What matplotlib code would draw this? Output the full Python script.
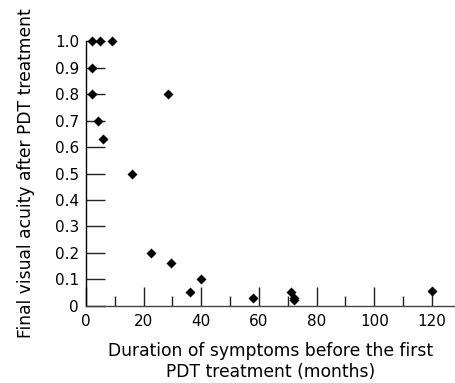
import matplotlib
matplotlib.use("Agg")
import matplotlib.pyplot as plt
from matplotlib.ticker import MultipleLocator

duration = [2, 5, 9, 2, 2, 4, 6, 28.5, 16, 22.5, 29.5, 40, 36, 58, 71, 72, 72, 120]
acuity = [1.0, 1.0, 1.0, 0.9, 0.8, 0.7, 0.63, 0.8, 0.5, 0.2, 0.16, 0.1, 0.05, 0.03, 0.05, 0.03, 0.02, 0.055]
xticks = [0, 20, 40, 60, 80, 100, 120]
yticks = [0, 0.1, 0.2, 0.3, 0.4, 0.5, 0.6, 0.7, 0.8, 0.9, 1.0]
ytick_labels = ["0", "0.1", "0.2", "0.3", "0.4", "0.5", "0.6", "0.7", "0.8", "0.9", "1.0"]

plt.rcParams['font.family'] = ['DejaVu Sans']
fig = plt.figure(figsize=(4.55, 3.83), dpi=100)
ax = fig.add_axes([86/455, (383-305.7)/383, (455-86)/455, (305.7-41.3)/383])

ax.scatter(duration, acuity, marker='D', s=26, color='black', clip_on=False, zorder=3, linewidths=0)

ax.set_xlim(0, 128)
ax.set_ylim(0, 1.0)
ax.set_xticks(xticks)
ax.xaxis.set_minor_locator(MultipleLocator(10))
ax.set_yticks(yticks)
ax.set_yticklabels(ytick_labels)

for s in ['top', 'right']:
    ax.spines[s].set_visible(False)
ax.spines['left'].set_color('black')
ax.spines['bottom'].set_color('#444444')
ax.spines['left'].set_linewidth(1.0)
ax.spines['bottom'].set_linewidth(1.0)

ax.tick_params(axis='x', which='major', direction='in', length=14, width=1, color='#222222', labelsize=11, pad=6)
ax.tick_params(axis='x', which='minor', direction='in', length=7, width=1, color='#222222')
ax.tick_params(axis='y', which='major', direction='in', length=14, width=1, color='#222222', labelsize=11, pad=5)

ax.set_xlabel("Duration of symptoms before the first\nPDT treatment (months)", fontsize=12.3, labelpad=9, linespacing=1.25)
ax.set_ylabel("Final visual acuity after PDT treatment", fontsize=12.3, labelpad=14)

fig.savefig("out.png", dpi=100)
